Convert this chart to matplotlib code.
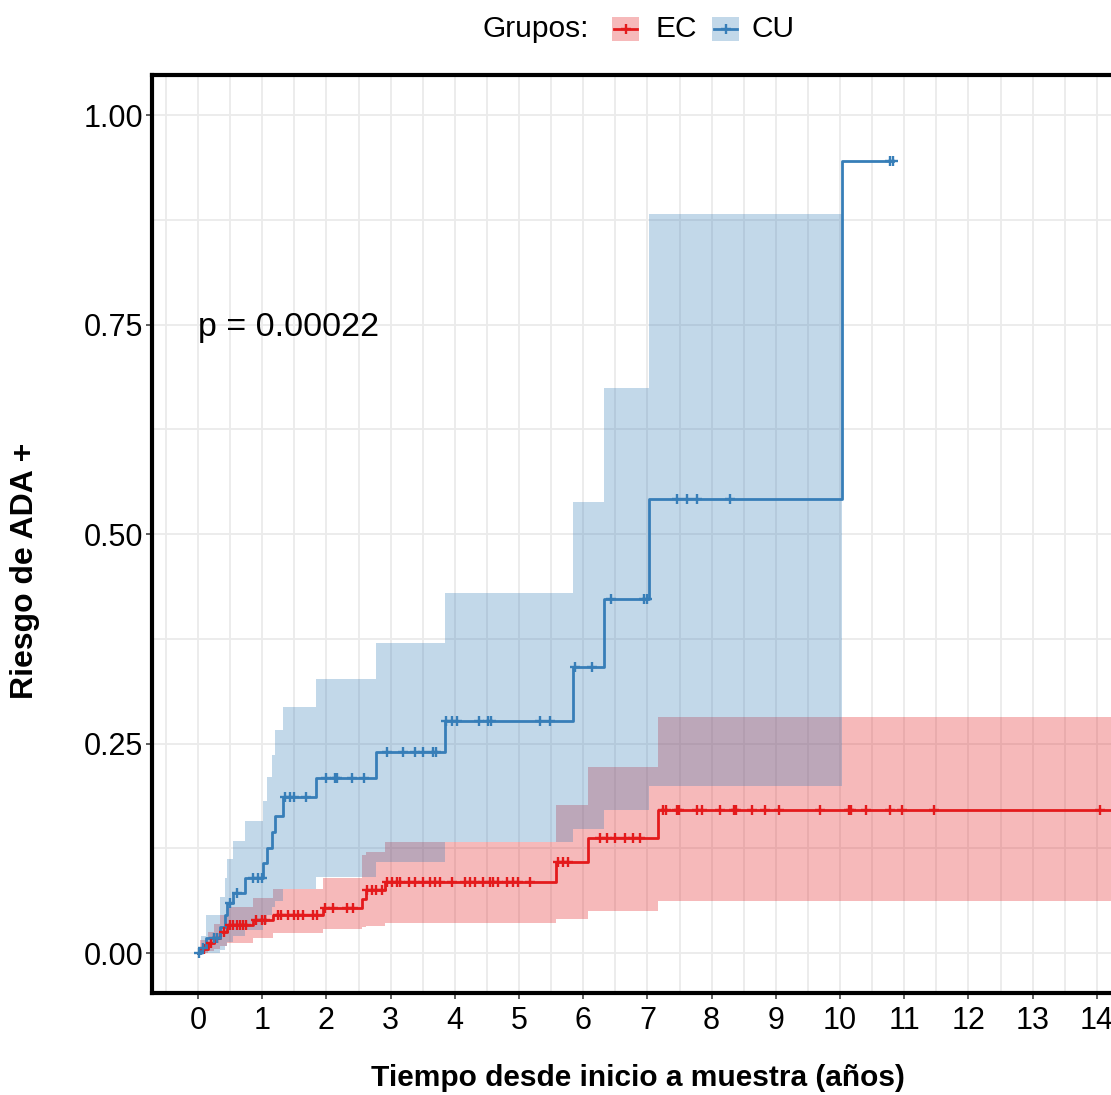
import numpy as np
import matplotlib
matplotlib.use("Agg")
import matplotlib.pyplot as plt
from matplotlib.patches import Rectangle
from matplotlib.lines import Line2D
from matplotlib.ticker import MultipleLocator

plt.rcParams['font.family'] = ['Liberation Sans', 'DejaVu Sans']

# ---- cumulative risk, CU group ----
cu_time = [0, 0.05, 0.12, 0.35, 0.42, 0.45, 0.55, 0.73, 1.02, 1.07, 1.15, 1.20,
           1.32, 1.84, 2.77, 3.85, 5.84, 6.33, 7.02, 10.03]
cu_risk = [0, 0.006, 0.018, 0.031, 0.045, 0.060, 0.072, 0.090, 0.107, 0.125, 0.145,
           0.163, 0.186, 0.209, 0.240, 0.277, 0.342, 0.422, 0.542, 0.945]
cu_upper = [0, 0.020, 0.045, 0.067, 0.090, 0.112, 0.134, 0.157, 0.182, 0.210, 0.236,
            0.266, 0.294, 0.327, 0.370, 0.430, 0.538, 0.674, 0.882]
cu_lower = [0, 0.0, 0.0, 0.004, 0.008, 0.013, 0.020, 0.028, 0.035, 0.045, 0.055,
            0.062, 0.077, 0.091, 0.109, 0.133, 0.148, 0.171, 0.199]
cu_last = 10.83
cu_censor = [0.02, 0.08, 0.25, 0.30, 0.50, 0.60, 0.85, 0.93, 1.00, 1.35, 1.43, 1.50,
             1.68, 2.00, 2.14, 2.16, 2.40, 2.59, 2.95, 3.20, 3.38, 3.51, 3.66, 3.71,
             3.87, 3.95, 4.03, 4.37, 4.52, 4.57, 5.33, 5.48, 5.87, 6.14, 6.44, 6.94,
             6.99, 7.46, 7.62, 7.77, 8.29, 10.78, 10.83]

# ---- cumulative risk, EC group ----
ec_time = [0, 0.03, 0.15, 0.25, 0.35, 0.45, 0.85, 1.17, 1.95, 2.55, 2.62, 2.91,
           5.58, 6.07, 7.16]
ec_risk = [0, 0.005, 0.012, 0.018, 0.025, 0.033, 0.039, 0.045, 0.054, 0.064, 0.075,
           0.085, 0.109, 0.137, 0.171]
ec_upper = [0, 0.015, 0.025, 0.035, 0.045, 0.055, 0.066, 0.077, 0.089, 0.117, 0.120,
            0.133, 0.177, 0.222, 0.282]
ec_lower = [0, 0.0, 0.002, 0.005, 0.008, 0.012, 0.018, 0.024, 0.029, 0.031, 0.032,
            0.036, 0.041, 0.050, 0.062]
ec_last = 14.25
ec_censor = [0.10, 0.20, 0.30, 0.40, 0.50, 0.55, 0.60, 0.65, 0.70, 0.75, 0.90, 1.00,
             1.05, 1.25, 1.30, 1.40, 1.50, 1.55, 1.64, 1.79, 1.85, 1.98, 2.10, 2.32,
             2.41, 2.63, 2.71, 2.78, 2.86, 2.94, 3.02, 3.10, 3.15, 3.28, 3.38, 3.51,
             3.61, 3.69, 3.77, 3.95, 4.16, 4.24, 4.31, 4.44, 4.55, 4.60, 4.68, 4.81,
             4.91, 4.99, 5.17, 5.61, 5.69, 5.77, 6.26, 6.37, 6.50, 6.65, 6.78, 6.88,
             7.24, 7.29, 7.46, 7.49, 7.77, 7.85, 8.13, 8.35, 8.38, 8.63, 8.83, 9.05,
             9.69, 10.14, 10.17, 10.41, 10.78, 10.97, 11.47, 14.05]

groups = ["EC", "CU"]
colors = {"EC": "#E41A1C", "CU": "#377EB8"}
p_text = "p = 0.00022"
x_ticks = list(range(0, 15))
y_ticks = [0.0, 0.25, 0.50, 0.75, 1.00]
y_ticklabels = ["0.00", "0.25", "0.50", "0.75", "1.00"]

W, H = 1111, 1095
fig = plt.figure(figsize=(W / 100, H / 100), dpi=100)

x_min, x_max = -0.71, 14.96
y_min, y_max = -0.0477, 1.048
ppy = 64.2
left_px = 198 + x_min * ppy
right_px = 198 + x_max * ppy
ax = fig.add_axes([left_px / W, (H - 993) / H, (right_px - left_px) / W, (993 - 75) / H])
ax.set_xlim(x_min, x_max)
ax.set_ylim(y_min, y_max)


def step_value(times, values, t):
    idx = np.searchsorted(times, t, side="right") - 1
    return np.asarray(values)[idx]


def draw_group(times, risk, upper, lower, last, censor, color):
    t = np.asarray(times, dtype=float)
    if len(upper) == len(t):
        # band continues to the last follow-up time
        band_t = np.append(t, last)
    else:
        # band stops at the last event time
        band_t = t
    up = np.append(upper, upper[-1])
    lo = np.append(lower, lower[-1])
    ax.fill_between(band_t, lo, up, step="post", color=color, alpha=0.3,
                    linewidth=0, zorder=2)
    line_t = np.append(t, last)
    line_y = np.append(risk, risk[-1])
    ax.step(line_t, line_y, where="post", color=color, lw=2.0, zorder=3)
    cy = step_value(t, risk, np.asarray(censor))
    ax.plot(censor, cy, linestyle="none", marker="+", color=color,
            markersize=7.5, markeredgewidth=1.7, zorder=4)


draw_group(ec_time, ec_risk, ec_upper, ec_lower, ec_last, ec_censor, colors["EC"])
draw_group(cu_time, cu_risk, cu_upper, cu_lower, cu_last, cu_censor, colors["CU"])

# grid and axes styling
ax.set_xticks(x_ticks)
ax.set_yticks(y_ticks)
ax.set_yticklabels(y_ticklabels)
ax.xaxis.set_minor_locator(MultipleLocator(0.5))
ax.yaxis.set_minor_locator(MultipleLocator(0.125))
ax.grid(which="both", color="#EBEBEB", lw=1.3, zorder=0)
ax.set_axisbelow(True)
ax.tick_params(which="minor", length=0)
ax.tick_params(which="major", length=4.5, width=1.1, color="#333333",
               labelsize=22, labelcolor="black")
ax.tick_params(axis="x", pad=5)
ax.tick_params(axis="y", pad=2)
for s in ax.spines.values():
    s.set_color("black")
    s.set_linewidth(3.0)

# axis titles
fig.text(637.5 / W, 1 - 1078 / H, "Tiempo desde inicio a muestra (años)",
         fontsize=21.5, fontweight="bold", ha="center", va="center")
fig.text(25 / W, 1 - 571 / H, "Riesgo de ADA +", fontsize=23, fontweight="bold",
         rotation=90, ha="center", va="center")

ax.text(0.0, 0.747, p_text, fontsize=24.5, ha="left", va="center", zorder=5)

# legend row
ly = 1 - 29 / H
fig.text(483 / W, ly, "Grupos:", fontsize=21.5, ha="left", va="center")
for g, x_box, x_lab in [("EC", 612, 655), ("CU", 712, 752)]:
    c = colors[g]
    fig.add_artist(Rectangle((x_box / W, 1 - 41 / H), 27 / W, 24 / H,
                             transform=fig.transFigure, facecolor=c, alpha=0.3,
                             edgecolor="none"))
    fig.add_artist(Line2D([(x_box + 2) / W, (x_box + 25) / W], [ly, ly],
                          transform=fig.transFigure, color=c, lw=2.0))
    fig.add_artist(Line2D([(x_box + 13.5) / W], [ly], transform=fig.transFigure,
                          color=c, marker="+", markersize=7.5, markeredgewidth=1.7))
    fig.text(x_lab / W, ly, g, fontsize=21.5, ha="left", va="center")

fig.savefig("out.png", dpi=100)
